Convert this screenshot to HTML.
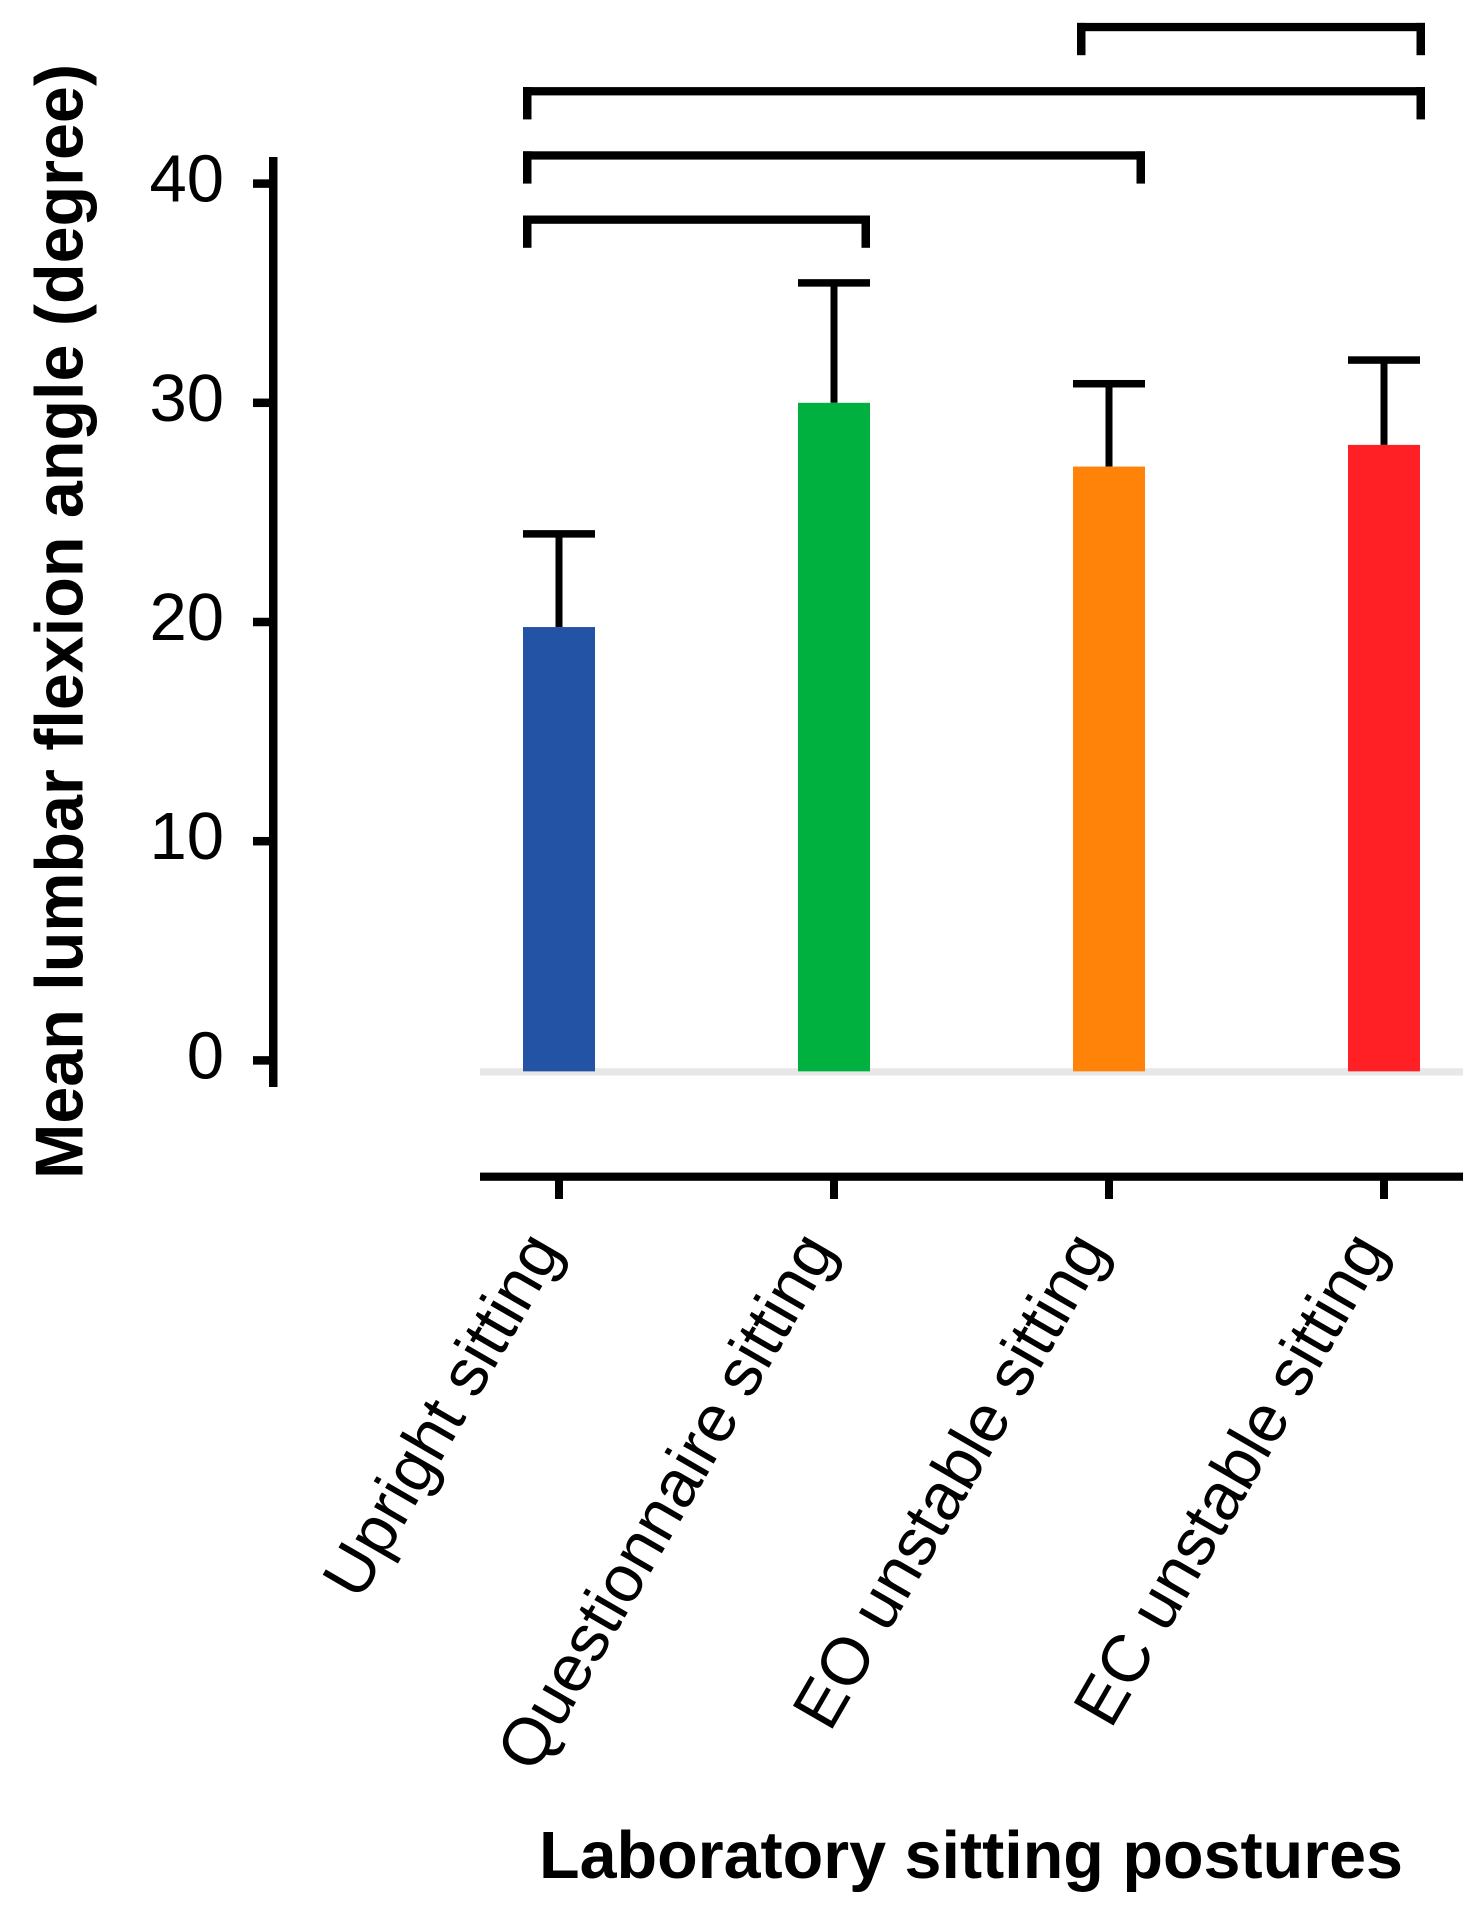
<!DOCTYPE html>
<html lang="en">
<head>
<meta charset="utf-8">
<title>Mean lumbar flexion angle by sitting posture</title>
<style>
  html, body { margin: 0; padding: 0; background: #ffffff; }
  #chart { display: block; width: 1481px; height: 1917px; }
  text { font-family: "Liberation Sans", Arial, sans-serif; fill: #000; }
</style>
</head>
<body>
<svg id="chart" xmlns="http://www.w3.org/2000/svg" width="1481" height="1917" viewBox="0 0 1481 1917">
  <rect x="0" y="0" width="1481" height="1917" fill="#ffffff"/>
  <text transform="translate(82.6 1179) rotate(-90)" font-size="68" font-weight="700" textLength="1115" lengthAdjust="spacingAndGlyphs">Mean lumbar flexion angle (degree)</text>
  <text x="539" y="1878" font-size="67" font-weight="700" textLength="864" lengthAdjust="spacingAndGlyphs">Laboratory sitting postures</text>
</svg>
<script>
const categories = ['Upright sitting', 'Questionnaire sitting', 'EO unstable sitting', 'EC unstable sitting'];
const means = [19.77, 30.0, 27.09, 28.08];
const errorTops = [24.02, 35.47, 30.87, 31.95];
const barColors = ['#2353a5', '#00b140', '#ff8209', '#ff2026'];
const yTicks = [0, 10, 20, 30, 40];
const significancePairs = [[0, 1], [0, 2], [0, 3], [2, 3]];

const svgNS = 'http://www.w3.org/2000/svg';
const chart = document.getElementById('chart');

const yZeroPx = 1060.4;
const pxPerUnit = 21.92;
const barBaseValue = -0.5;
const firstCenter = 559;
const bandStep = 275;
const barWidth = 72;
const strokeWide = 8.5;

function yScale(v) { return yZeroPx - v * pxPerUnit; }
function xScale(i) { return firstCenter + i * bandStep; }
function labelOffset(i) { return i === 2 ? 0 : (i === 1 ? 3 : 4); }

function makeRect(x, y, w, h, fill) {
  const r = document.createElementNS(svgNS, 'rect');
  r.setAttribute('x', x);
  r.setAttribute('y', y);
  r.setAttribute('width', w);
  r.setAttribute('height', h);
  r.setAttribute('fill', fill);
  chart.appendChild(r);
  return r;
}

/* y axis */
const yAxisLine = makeRect(269, 157, strokeWide, 930, '#000');



yTicks.forEach(function (t) {
  const tick = makeRect(253, yScale(t) - 4.25, 17, strokeWide, '#000');
  
  
  const label = document.createElementNS(svgNS, 'text');
  label.setAttribute('x', 224);
  label.setAttribute('y', yScale(t) + 18);
  label.setAttribute('text-anchor', 'end');
  label.setAttribute('font-size', '67');
  label.textContent = String(t);
  
  
  chart.appendChild(label);
});

/* baseline band */
const band = makeRect(480, 1068.2, 983, 7.3, '#e7e7e8');



/* x axis */
const xAxisLine = makeRect(480, 1172.6, 983, 8.2, '#000');



/* bars, error bars, x ticks, category labels */
categories.forEach(function (name, i) {
  const cx = xScale(i);
  const top = yScale(means[i]);
  const capY = yScale(errorTops[i]);

  const stem = makeRect(cx - 3.5, capY, 7, top - capY, '#000');
  
  

  const cap = makeRect(cx - barWidth / 2, capY - 3.75, barWidth, 7.5, '#000');
  
  

  const bar = makeRect(cx - barWidth / 2, top, barWidth, yScale(barBaseValue) - top, barColors[i]);
  
  

  const xTick = makeRect(cx - 4, 1180, 8, 19, '#000');
  
  

  const label = document.createElementNS(svgNS, 'text');
  label.setAttribute('transform', 'translate(' + (cx + labelOffset(i)) + ' 1250) rotate(-60)');
  label.setAttribute('text-anchor', 'end');
  label.setAttribute('font-size', '66.5');
  label.textContent = name;
  
  
  chart.appendChild(label);
});

/* significance brackets, lowest first */
function bracketLeft(i) { return xScale(i) - barWidth / 2 + (i === 2 ? 4 : 0); }
function bracketRight(i) { return xScale(i) + barWidth / 2 + (i === 3 ? 5 : 0); }

significancePairs.forEach(function (pair, level) {
  const left = bracketLeft(pair[0]);
  const right = bracketRight(pair[1]);
  const top = 215.5 - level * 64.2;
  const horizontal = makeRect(left, top, right - left, 8.3, '#000');
  
  
  const leftLeg = makeRect(left, top, strokeWide, 32.3, '#000');
  
  
  const rightLeg = makeRect(right - strokeWide, top, strokeWide, 32.3, '#000');
  
  
});
</script>
</body>
</html>
